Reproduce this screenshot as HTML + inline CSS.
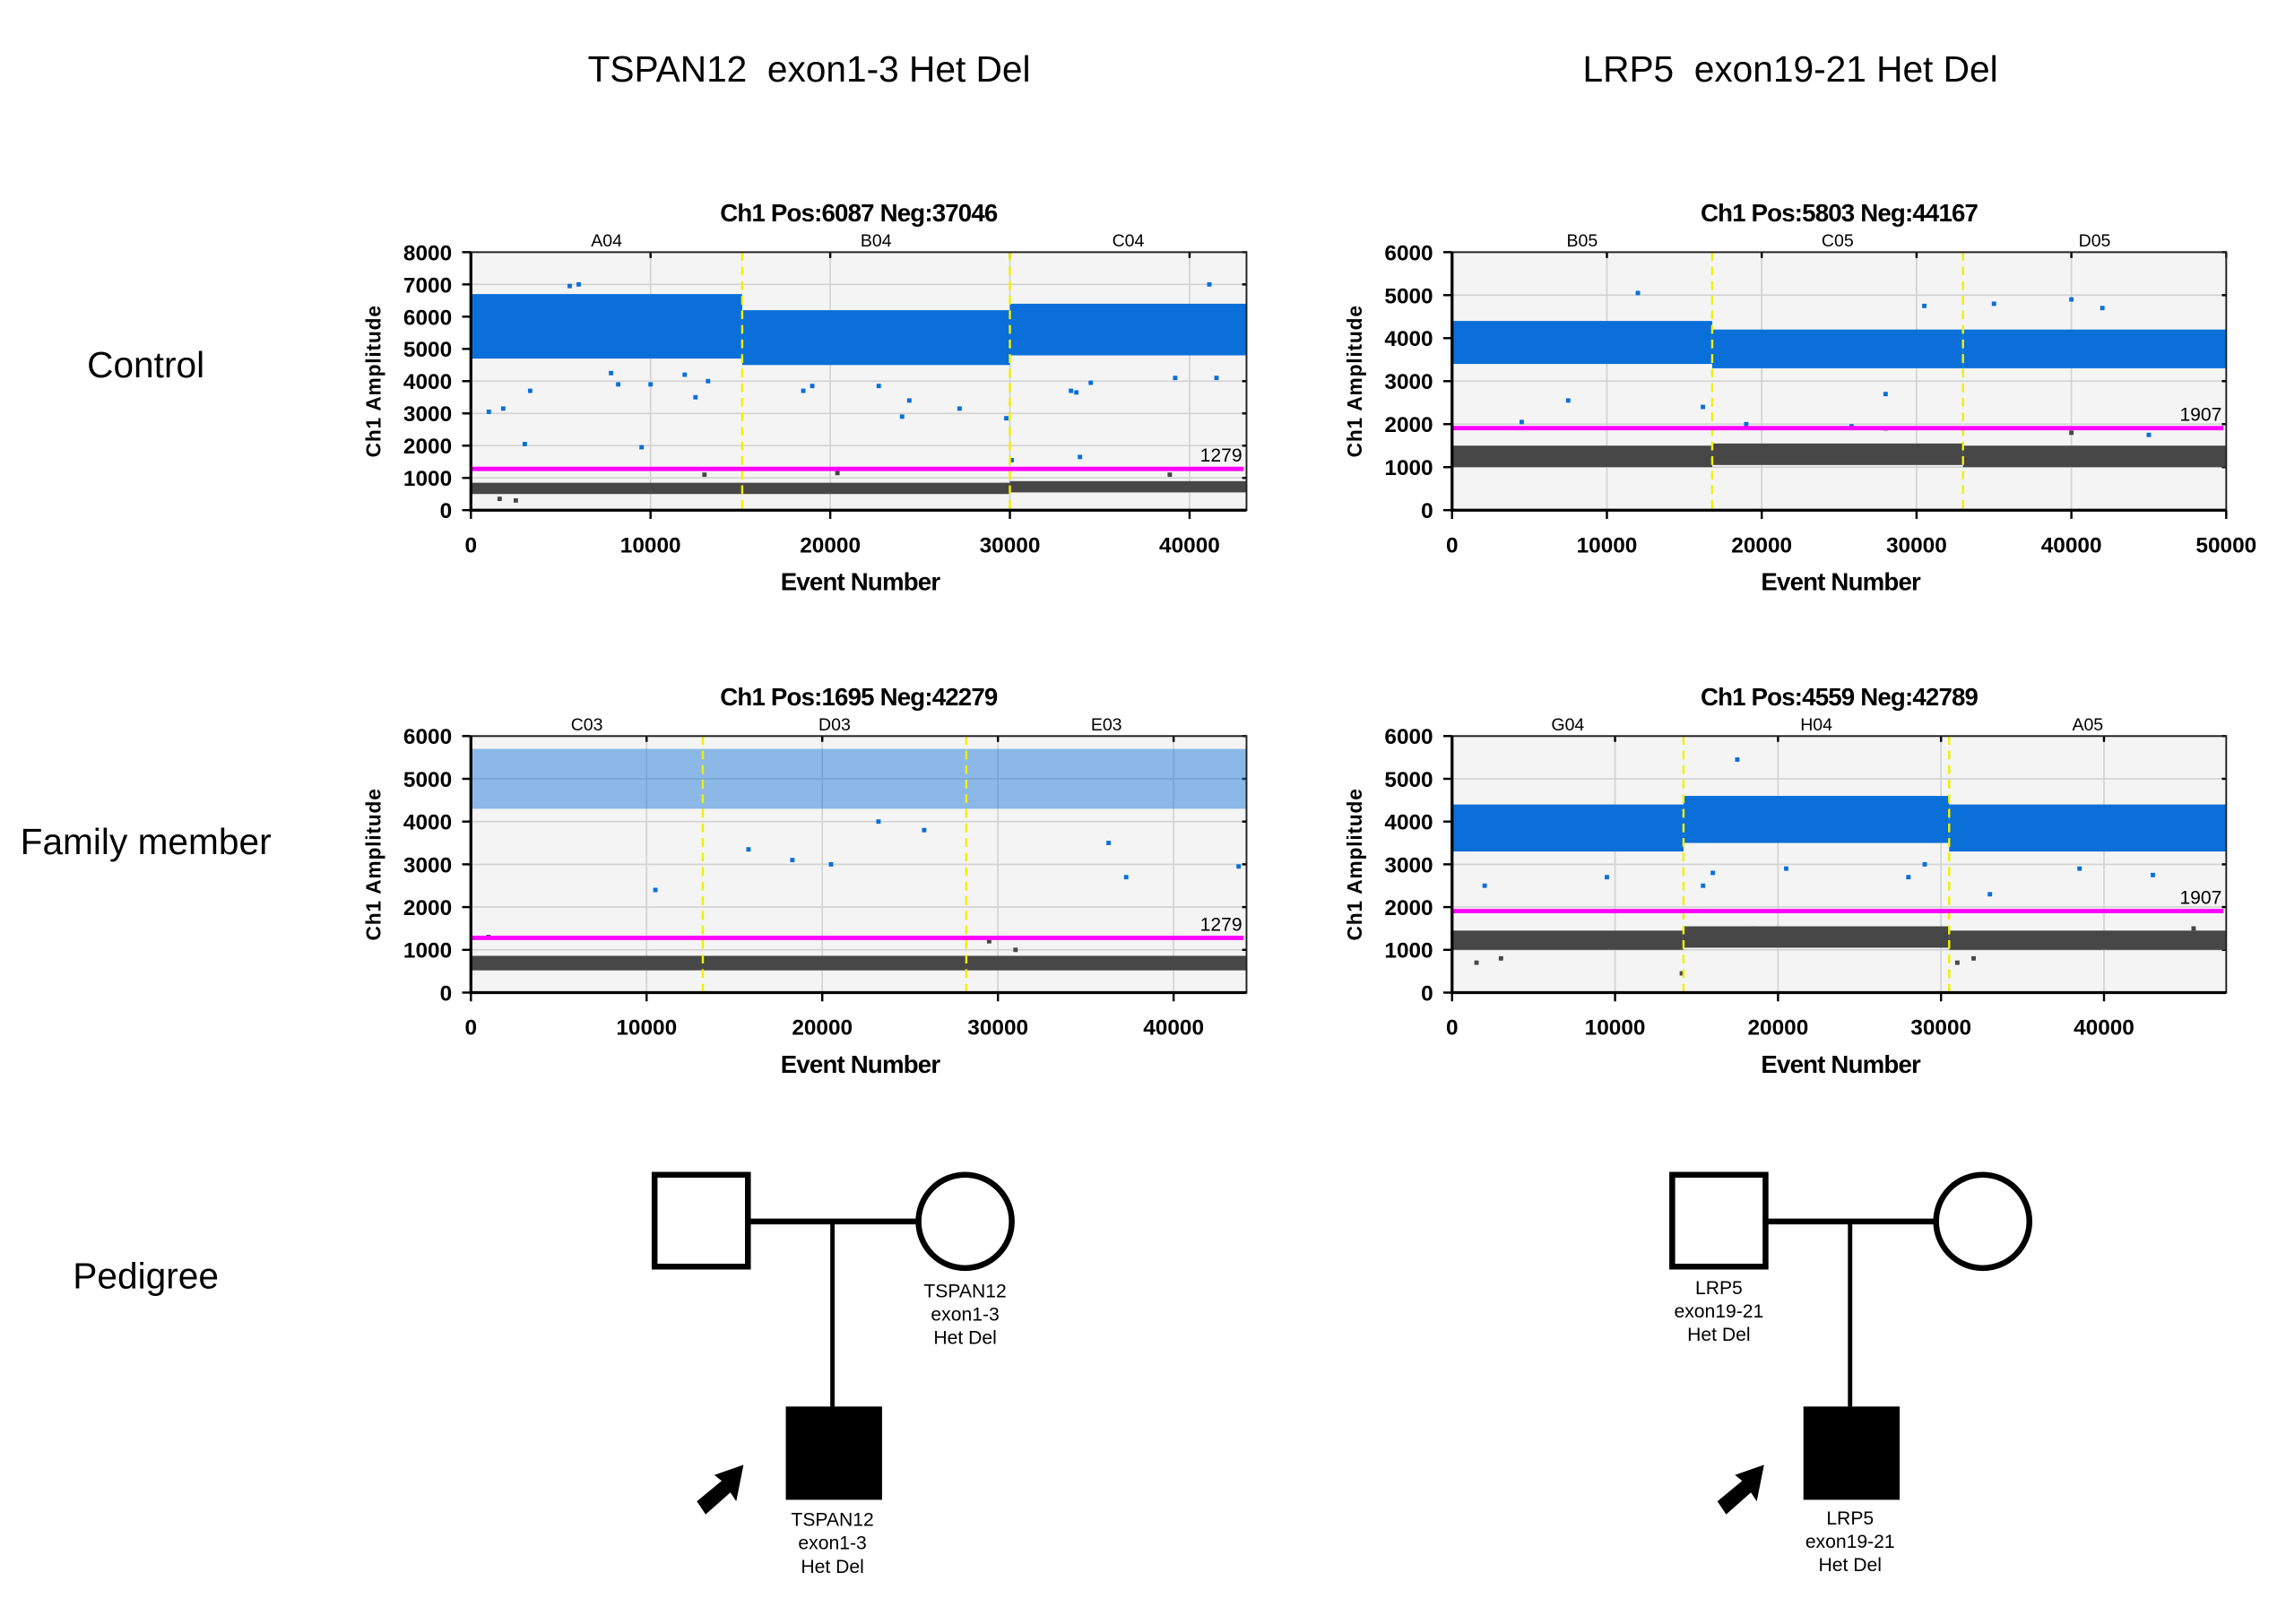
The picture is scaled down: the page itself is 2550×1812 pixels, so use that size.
<!DOCTYPE html>
<html><head><meta charset="utf-8"><style>
html,body{margin:0;padding:0;background:#fff;}
svg{display:block;}
text{font-family:"Liberation Sans",sans-serif;white-space:pre;}
</style></head><body>
<svg id="fig" width="2550" height="1812" viewBox="0 0 1568 1114.2" xmlns="http://www.w3.org/2000/svg">
<text x="555" y="56" font-size="25" text-anchor="middle" xml:space="preserve">TSPAN12  exon1-3 Het Del</text>
<text x="1228" y="56" font-size="25" text-anchor="middle" xml:space="preserve">LRP5  exon19-21 Het Del</text>
<text x="100" y="259" font-size="25" text-anchor="middle">Control</text>
<text x="100" y="586" font-size="25" text-anchor="middle">Family member</text>
<text x="100" y="884" font-size="25" text-anchor="middle">Pedigree</text>
<g id="charts"></g>
<g id="pedigree">
 <g>
  <rect x="449" y="806" width="64" height="63" fill="#fff" stroke="#000" stroke-width="4"/>
  <line x1="513" y1="838" x2="630" y2="838" stroke="#000" stroke-width="4"/>
  <ellipse cx="662" cy="838" rx="32" ry="32" fill="#fff" stroke="#000" stroke-width="4"/>
  <line x1="571" y1="838" x2="571" y2="965" stroke="#000" stroke-width="3"/>
  <rect x="539" y="965" width="66" height="64" fill="#000"/>
  <path d="M510,1005 L505,1030 L501,1024 L484,1039 L478,1030 L495,1016 L490,1012 Z" fill="#000"/>
  <text x="662" y="890" font-size="13" text-anchor="middle">TSPAN12</text>
  <text x="662" y="906" font-size="13" text-anchor="middle">exon1-3</text>
  <text x="662" y="922" font-size="13" text-anchor="middle">Het Del</text>
  <text x="571" y="1047" font-size="13" text-anchor="middle">TSPAN12</text>
  <text x="571" y="1063" font-size="13" text-anchor="middle">exon1-3</text>
  <text x="571" y="1079" font-size="13" text-anchor="middle">Het Del</text>
 </g>
 <g>
  <rect x="1147" y="806" width="64" height="63" fill="#fff" stroke="#000" stroke-width="4"/>
  <line x1="1211" y1="838" x2="1328" y2="838" stroke="#000" stroke-width="4"/>
  <ellipse cx="1360" cy="838" rx="32" ry="32" fill="#fff" stroke="#000" stroke-width="4"/>
  <line x1="1269" y1="838" x2="1269" y2="965" stroke="#000" stroke-width="3"/>
  <rect x="1237" y="965" width="66" height="64" fill="#000"/>
  <path d="M1210,1005 L1205,1030 L1201,1024 L1184,1039 L1178,1030 L1195,1016 L1190,1012 Z" fill="#000"/>
  <text x="1179" y="888" font-size="13" text-anchor="middle">LRP5</text>
  <text x="1179" y="904" font-size="13" text-anchor="middle">exon19-21</text>
  <text x="1179" y="920" font-size="13" text-anchor="middle">Het Del</text>
  <text x="1269" y="1046" font-size="13" text-anchor="middle">LRP5</text>
  <text x="1269" y="1062" font-size="13" text-anchor="middle">exon19-21</text>
  <text x="1269" y="1078" font-size="13" text-anchor="middle">Het Del</text>
 </g>
</g>
</svg>
<script>
// ---- chart data ----
const titles = ["Ch1 Pos:6087 Neg:37046","Ch1 Pos:5803 Neg:44167","Ch1 Pos:1695 Neg:42279","Ch1 Pos:4559 Neg:42789"];
const xMax = [43170, 50000, 44150, 47500];
const yMax = [8000, 6000, 6000, 6000];
const xTicks = [[0,10000,20000,30000,40000],[0,10000,20000,30000,40000,50000],[0,10000,20000,30000,40000],[0,10000,20000,30000,40000]];
const wellNames = [["A04","B04","C04"],["B05","C05","D05"],["C03","D03","E03"],["G04","H04","A05"]];
const wellBounds = [[0,15100,30000,43170],[0,16800,33000,50000],[0,13200,28200,44150],[0,14200,30500,47500]];
const thresholds = [1279, 1907, 1279, 1907];
const posLo = [[4700,4500,4800],[3400,3300,3300],[4300,4300,4300],[3300,3500,3300]];
const posHi = [[6700,6200,6400],[4400,4200,4200],[5700,5700,5700],[4400,4600,4400]];
const posDensity = [1, 1, 0.45, 1];
const negLo = [[500,500,550],[1000,1050,1000],[520,520,520],[1000,1050,1000]];
const negHi = [[850,850,900],[1500,1550,1500],[860,860,860],[1450,1550,1450]];
const posOutliers = [
 [[1000,3050],[1800,3150],[3300,3700],[3000,2050],[9500,1950],[7800,4250],[8200,3900],[10000,3900],[11900,4200],[12500,3500],[13200,4000],[18500,3700],[19000,3850],[22700,3850],[24000,2900],[24400,3400],[27200,3150],[29800,2850],[30100,1550],[33900,1650],[33400,3700],[33700,3650],[34500,3950],[39200,4100],[41500,4100],[41100,7000],[6000,7000],[5500,6950]],
 [[12000,5050],[30500,4750],[35000,4800],[40000,4900],[42000,4700],[4500,2050],[7500,2550],[16200,2400],[28000,2700],[19000,2000],[25800,1950],[45000,1750]],
 [[10500,2400],[15800,3350],[18300,3100],[20500,3000],[25800,3800],[36300,3500],[37300,2700],[43700,2950],[23200,4000]],
 [[17500,5450],[9500,2700],[2000,2500],[15400,2500],[16000,2800],[20500,2900],[28000,2700],[29000,3000],[33000,2300],[38500,2900],[43000,2750]]
];
const negOutliers = [
 [[13000,1100],[20400,1150],[38900,1100],[1600,350],[2500,300]],
 [[28000,1900],[40000,1800]],
 [[1000,1300],[29500,1200],[31000,1000]],
 [[14100,450],[31000,700],[32000,800],[1500,700],[3000,800],[18500,1500],[45500,1500]]
];
// ---- layout ----
const boxes = [[323,173,855,350],[996,173,1527,350],[323,505,855,681],[996,505,1527,681]];
const NS="http://www.w3.org/2000/svg";
function mk(tag, attrs, parent){const e=document.createElementNS(NS,tag);for(const k in attrs)e.setAttribute(k,attrs[k]);parent.appendChild(e);return e;}
const root=document.getElementById('charts');
boxes.forEach((b,i)=>{
 const [L,T,R,B]=b;
 const xs=v=>L+(v/xMax[i])*(R-L);
 const ys=v=>B-(v/yMax[i])*(B-T);
 const g=mk('g',{},root);
 
 
 const bg=mk('rect',{x:L,y:T,width:R-L,height:B-T,fill:'#f4f4f4'},g);
 
 
 for(let v=0;v<=yMax[i];v+=1000){
  const y=ys(v);
  const gl=mk('line',{x1:L,x2:R,y1:y,y2:y,stroke:'#d2d2d2','stroke-width':1},g);
  
  
  mk('line',{x1:L-6,x2:L,y1:y,y2:y,stroke:'#000','stroke-width':1.5},g);
  mk('line',{x1:R-3,x2:R,y1:y,y2:y,stroke:'#000','stroke-width':1.5},g);
  const t=mk('text',{x:L-13,y:y+5.5,'font-size':15,'font-weight':'bold','text-anchor':'end'},g);
  t.textContent=String(v);
  
  
 }
 xTicks[i].forEach(v=>{
  const x=xs(v);
  const gl=mk('line',{x1:x,x2:x,y1:T,y2:B,stroke:'#d2d2d2','stroke-width':1},g);
  
  
  mk('line',{x1:x,x2:x,y1:B,y2:B+6,stroke:'#000','stroke-width':1.5},g);
  mk('line',{x1:x,x2:x,y1:T,y2:T+4,stroke:'#000','stroke-width':1.5},g);
  const t=mk('text',{x:x,y:B+29,'font-size':15,'font-weight':'bold','text-anchor':'middle'},g);
  t.textContent=String(v);
  
  
 });
 for(let w=0;w<3;w++){
  const x0=xs(wellBounds[i][w]), x1=xs(wellBounds[i][w+1]);
  const nr=mk('rect',{x:x0,y:ys(negHi[i][w]),width:x1-x0,height:ys(negLo[i][w])-ys(negHi[i][w]),fill:'#474747'},g);
  
  
  const pr=mk('rect',{x:x0,y:ys(posHi[i][w]),width:x1-x0,height:ys(posLo[i][w])-ys(posHi[i][w]),fill:'#0a6fd8','fill-opacity':posDensity[i]},g);
  
  
  const wl=mk('text',{x:(x0+x1)/2,y:T-4,'font-size':12,'text-anchor':'middle'},g);
  wl.textContent=wellNames[i][w];
  
  
 }
 posOutliers[i].forEach(p=>{
  const r=mk('rect',{x:xs(p[0])-1.5,y:ys(p[1])-1.5,width:3,height:3,fill:'#0a6fd8'},g);
  
  
 });
 negOutliers[i].forEach(p=>{
  const r=mk('rect',{x:xs(p[0])-1.5,y:ys(p[1])-1.5,width:3,height:3,fill:'#474747'},g);
  
  
 });
 for(let w=1;w<3;w++){
  const x=xs(wellBounds[i][w]);
  const d=mk('line',{x1:x,x2:x,y1:T,y2:B,stroke:'#f0f000','stroke-width':1.5,'stroke-dasharray':'6,4'},g);
  
  
 }
 const th=mk('line',{x1:L,x2:R-2,y1:ys(thresholds[i]),y2:ys(thresholds[i]),stroke:'#ff00ff','stroke-width':3},g);
 
 
 const tl=mk('text',{x:R-3,y:ys(thresholds[i])-5,'font-size':13,'text-anchor':'end'},g);
 tl.textContent=String(thresholds[i]);
 
 
 mk('rect',{x:L,y:T,width:R-L,height:B-T,fill:'none',stroke:'#222','stroke-width':1.2},g);
 mk('line',{x1:L,x2:L,y1:T,y2:B+1,stroke:'#000','stroke-width':2},g);
 mk('line',{x1:L-1,x2:R,y1:B,y2:B,stroke:'#000','stroke-width':2},g);
 const tt=mk('text',{x:(L+R)/2,y:T-21,'font-size':17,'font-weight':'bold','text-anchor':'middle','letter-spacing':'-0.5'},g);
 tt.textContent=titles[i];
 
 
 const xt=mk('text',{x:(L+R)/2+1,y:B+55,'font-size':17,'font-weight':'bold','text-anchor':'middle','letter-spacing':'-0.5'},g);
 xt.textContent='Event Number';
 
 
 const cy=(T+B)/2;
 const yt=mk('text',{x:L-67,y:cy,'font-size':14,'font-weight':'bold','text-anchor':'middle',transform:'rotate(-90 '+(L-67)+' '+cy+')','letter-spacing':'0.5'},g);
 yt.textContent='Ch1 Amplitude';
 
 
 yt.setAttribute('dy','5');
});
</script>
</body></html>
